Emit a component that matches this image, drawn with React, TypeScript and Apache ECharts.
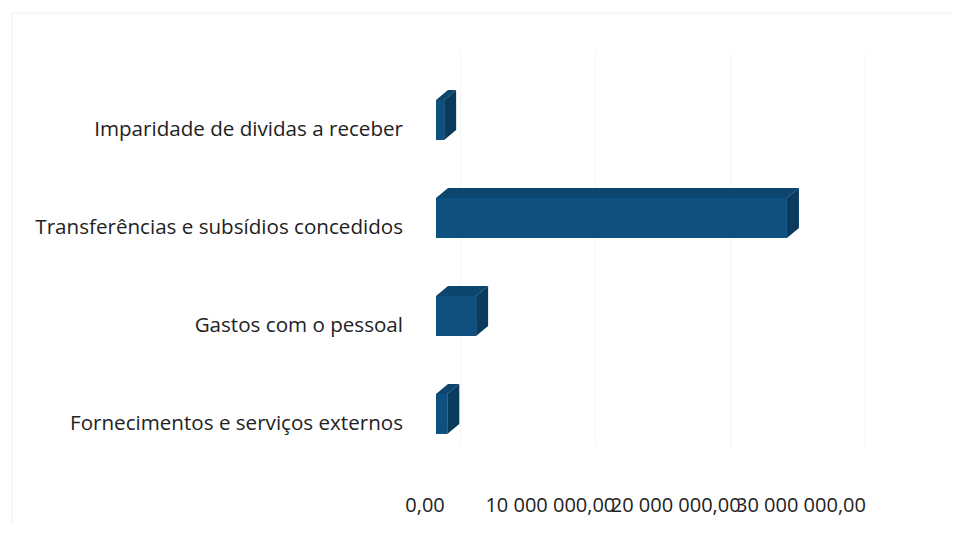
import React, { useEffect, useRef } from "react";
import * as echarts from "echarts";

const categories = [
  "Fornecimentos e serviços externos",
  "Gastos com o pessoal",
  "Transferências e subsídios concedidos",
  "Imparidade de dividas a receber",
];
const values = [900000, 3200000, 28000000, 650000];
const axisMax = 30000000;
const axisInterval = 10000000;

const FRONT = "#0f5080";
const TOP = "#0c466f";
const SIDE = "#0a3a5c";

function fmt(v: number): string {
  const s = Math.round(v).toString();
  const parts: string[] = [];
  for (let i = s.length; i > 0; i -= 3) parts.unshift(s.slice(Math.max(0, i - 3), i));
  return parts.join(" ") + ",00";
}

export default function App() {
  const ref = useRef<HTMLDivElement>(null);
  useEffect(() => {
    if (!ref.current) return;
    const chart = echarts.init(ref.current, undefined, { renderer: "svg" });
    const font = "'Open Sans', 'Noto Sans', sans-serif";
    const labelAxis = (parity: number) => ({
      type: "value",
      gridIndex: 0,
      position: "bottom",
      min: 0,
      max: axisMax,
      interval: axisInterval,
      axisLine: { show: false },
      axisTick: { show: false },
      splitLine: { show: false },
      axisLabel: {
        formatter: (v: number) =>
          Math.round(v / axisInterval) % 2 === parity ? fmt(v) : "",
        color: "#222222",
        fontFamily: font,
        fontSize: 20,
        margin: 23,
        hideOverlap: false,
        showMinLabel: true,
        showMaxLabel: true,
      },
    });
    chart.setOption({
      animation: false,
      backgroundColor: "#ffffff",
      grid: [
        { left: 425, right: 159, top: 79, bottom: 62 },
        { left: 460, right: 95, top: 53, bottom: 86 },
      ],
      xAxis: [
        labelAxis(0),
        {
          type: "value",
          gridIndex: 1,
          min: 0,
          max: axisMax,
          interval: axisInterval,
          axisLine: { show: false },
          axisTick: { show: false },
          axisLabel: { show: false },
          splitLine: { show: true, lineStyle: { color: "#f4f4f4", width: 1 } },
        },
        labelAxis(1),
      ],
      yAxis: [
        {
          type: "category",
          gridIndex: 0,
          data: categories,
          axisLine: { show: false },
          axisTick: { show: false },
          axisLabel: {
            color: "#222222",
            fontFamily: font,
            fontSize: 20.6,
            margin: 22,
          },
        },
        {
          type: "value",
          gridIndex: 1,
          min: 0,
          max: 1,
          show: false,
          splitLine: { show: false },
        },
      ],
      graphic: [
        {
          type: "polyline",
          shape: { points: [[12, 533], [12, 13], [960, 13]] },
          style: { stroke: "#eeeeee", lineWidth: 1, fill: "none" },
          silent: true,
        },
      ],
      series: [
        {
          type: "custom",
          xAxisIndex: 0,
          yAxisIndex: 0,
          data: values.map((v, i) => [v, i]),
          encode: { x: 0, y: 1 },
          renderItem: (params: any, api: any) => {
            const v = api.value(0);
            const c = api.value(1);
            const p0 = api.coord([0, c]);
            const p1 = api.coord([v, c]);
            const offX = 11;
            const offY = -8;
            const h = 40;
            const dx = 12;
            const dy = -10;
            const x0 = p0[0] + offX;
            const x1 = p1[0] + offX;
            const top = p0[1] + offY - h / 2;
            const bottom = top + h;
            return {
              type: "group",
              children: [
                {
                  type: "polygon",
                  shape: { points: [[x0, top], [x1, top], [x1 + dx, top + dy], [x0 + dx, top + dy]] },
                  style: { fill: TOP },
                },
                {
                  type: "polygon",
                  shape: { points: [[x1, top], [x1 + dx, top + dy], [x1 + dx, bottom + dy], [x1, bottom]] },
                  style: { fill: SIDE },
                },
                {
                  type: "rect",
                  shape: { x: x0, y: top, width: x1 - x0, height: h },
                  style: { fill: FRONT },
                },
              ],
            };
          },
        },
      ],
    });
    return () => chart.dispose();
  }, []);
  return <div ref={ref} style={{ width: 960, height: 533, margin: -8 }} />;
}
